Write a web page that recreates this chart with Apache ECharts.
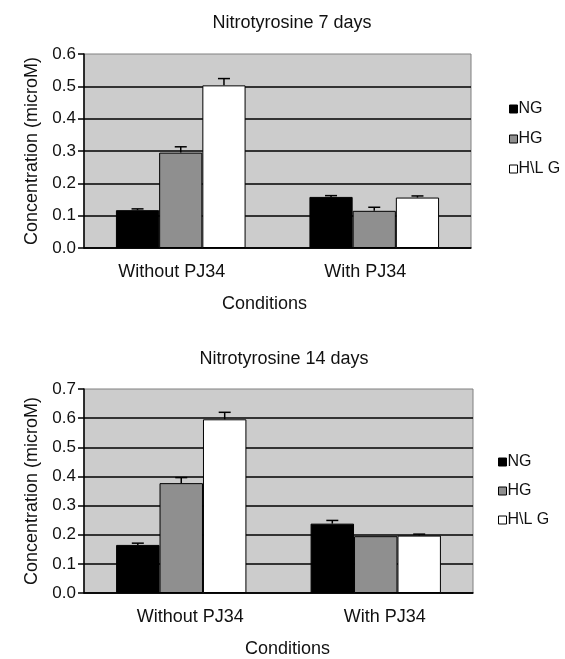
<!DOCTYPE html>
<html>
<head>
<meta charset="utf-8">
<script src="https://cdn.jsdelivr.net/npm/echarts@6/dist/echarts.min.js"></script>
<style>
html,body{margin:0;padding:0;background:#fff;}
#c{width:565px;height:659px;}
</style>
</head>
<body>
<div id="c"></div>
<script>
// ---- data ----
const categories = ['Without PJ34', 'With PJ34'];
const seriesNames = ['NG', 'HG', 'H\\L G'];
const titles = ['Nitrotyrosine 7 days', 'Nitrotyrosine 14 days'];
const yMax = [0.6, 0.7];

// 7 days
const ng7 = [0.117, 0.158];
const hg7 = [0.295, 0.115];
const hlg7 = [0.503, 0.156];
const ng7Err = [0.004, 0.004];
const hg7Err = [0.018, 0.011];
const hlg7Err = [0.021, 0.005];

// 14 days
const ng14 = [0.165, 0.238];
const hg14 = [0.377, 0.195];
const hlg14 = [0.596, 0.197];
const ng14Err = [0.006, 0.011];
const hg14Err = [0.019, 0.0];
const hlg14Err = [0.024, 0.005];

// ---- build ----
const FONT = 'Liberation Sans, Arial, sans-serif';
const GAP = 0.33;
const colors = ['#000000', '#8f8f8f', '#ffffff'];
const panels = [
  {vals: [ng7, hg7, hlg7], errs: [ng7Err, hg7Err, hlg7Err]},
  {vals: [ng14, hg14, hlg14], errs: [ng14Err, hg14Err, hlg14Err]}
];

const grids = [
  {left: 84, right: 94, top: 54, height: 194},
  {left: 84, right: 92, top: 389, height: 204}
];
const xShift = [-9, 9];
const nameShift = [-13, 9];

const option = {
  animation: false,
  backgroundColor: '#ffffff',
  textStyle: {fontFamily: FONT, color: '#111'},
  title: [
    {text: titles[0], left: 287, top: 9, textAlign: 'center',
     textStyle: {fontFamily: FONT, fontSize: 18, fontWeight: 'normal', color: '#111'}},
    {text: titles[1], left: 279, top: 345, textAlign: 'center',
     textStyle: {fontFamily: FONT, fontSize: 18, fontWeight: 'normal', color: '#111'}}
  ],
  legend: [
    {orient: 'vertical', left: 509, top: 101, padding: 0, itemGap: 14,
     itemWidth: 8, itemHeight: 8, icon: 'rect', data: seriesNames,
     itemStyle: {borderColor: '#000', borderWidth: 1},
     textStyle: {fontFamily: FONT, fontSize: 16, color: '#111', padding: [0, 0, 0, -4]}},
    {orient: 'vertical', left: 498, top: 454, padding: 0, itemGap: 13,
     itemWidth: 8, itemHeight: 8, icon: 'rect', data: seriesNames,
     itemStyle: {borderColor: '#000', borderWidth: 1},
     textStyle: {fontFamily: FONT, fontSize: 16, color: '#111', padding: [0, 0, 0, -4]}}
  ],
  grid: grids.map(g => Object.assign({show: true, backgroundColor: '#cccccc',
    borderColor: '#808080', borderWidth: 1}, g)),
  xAxis: [0, 1].map(i => ({
    type: 'category', gridIndex: i, data: categories,
    axisTick: {show: false},
    axisLine: {lineStyle: {color: '#000', width: 1.5}},
    axisLabel: {fontFamily: FONT, fontSize: 18, color: '#111', margin: 15,
      padding: xShift[i] < 0 ? [0, -2 * xShift[i], 0, 0] : [0, 0, 0, 2 * xShift[i]]},
    name: 'Conditions', nameLocation: 'middle', nameGap: 47,
    nameTextStyle: {fontFamily: FONT, fontSize: 18, color: '#111',
      padding: nameShift[i] < 0 ? [0, -2 * nameShift[i], 0, 0] : [0, 0, 0, 2 * nameShift[i]]}
  })),
  yAxis: [0, 1].map(i => ({
    type: 'value', gridIndex: i, min: 0, max: yMax[i], interval: 0.1,
    axisLine: {show: true, lineStyle: {color: '#000', width: 1.5}},
    axisTick: {show: true, length: 6, lineStyle: {color: '#000', width: 1.5}},
    axisLabel: {fontFamily: FONT, fontSize: 17, color: '#111', margin: 8,
      formatter: v => v.toFixed(1)},
    splitLine: {show: true, showMaxLine: false, lineStyle: {color: '#000', width: 1.5}},
    name: 'Concentration (microM)', nameLocation: 'middle', nameRotate: 90, nameGap: 43,
    nameTextStyle: {fontFamily: FONT, fontSize: 18, color: '#111'}
  })),
  series: []
};

panels.forEach((p, gi) => {
  seriesNames.forEach((name, k) => {
    option.series.push({
      type: 'bar', name: name, xAxisIndex: gi, yAxisIndex: gi,
      data: p.vals[k], barGap: '0%', barCategoryGap: (GAP * 100) + '%',
      itemStyle: {color: colors[k], borderColor: '#000', borderWidth: 1},
      z: 3
    });
  });
  seriesNames.forEach((name, k) => {
    option.series.push({
      type: 'custom', name: name + ' err', xAxisIndex: gi, yAxisIndex: gi, z: 5,
      data: categories.map((c, ci) => [ci, p.vals[k][ci], p.errs[k][ci]]),
      encode: {x: 0, y: 1},
      renderItem: (params, api) => {
        const ci = api.value(0), v = api.value(1), e = api.value(2);
        if (!e) return null;
        const base = api.coord([ci, v]);
        const top = api.coord([ci, v + e]);
        const band = api.size([1, 0])[0];
        const bw = band * (1 - GAP) / 3;
        const x = base[0] + (k - 1) * bw;
        const st = {stroke: '#000', lineWidth: 1.5};
        return {type: 'group', children: [
          {type: 'line', shape: {x1: x, y1: base[1], x2: x, y2: top[1]}, style: st},
          {type: 'line', shape: {x1: x - 6, y1: top[1], x2: x + 6, y2: top[1]}, style: st}
        ]};
      }
    });
  });
});

const chart = echarts.init(document.getElementById('c'), null, {renderer: 'canvas'});
chart.setOption(option);
</script>
</body>
</html>
